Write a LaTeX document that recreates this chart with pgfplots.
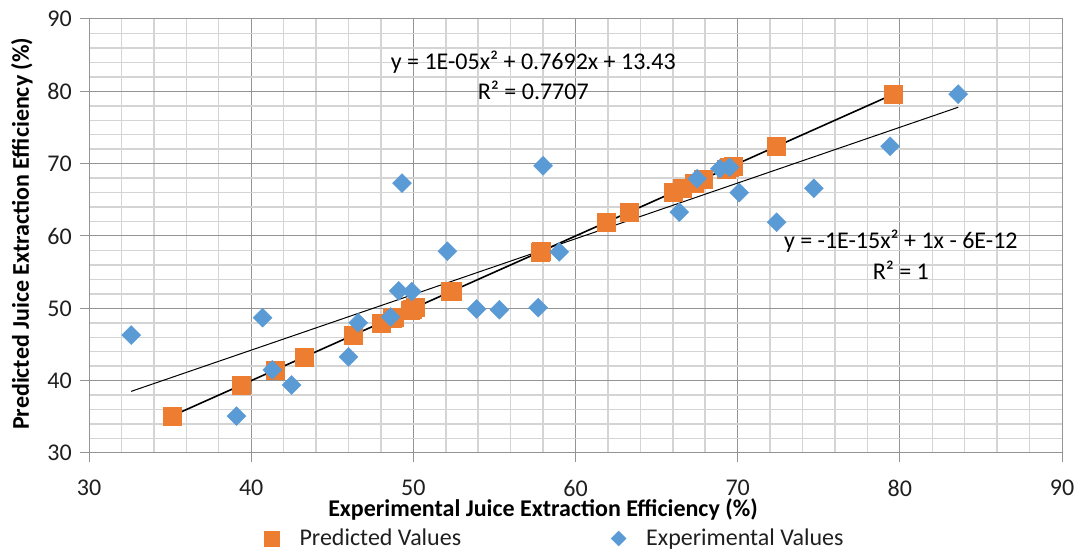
\documentclass[border=0pt]{standalone}
\usepackage{pgfplots}
\pgfplotsset{compat=1.18}
\usepackage{fontspec}
\setmainfont{Carlito}
\definecolor{orng}{HTML}{ED7D31}
\definecolor{blu}{HTML}{5B9BD5}
\pgfplotstableread{
x y
32.6 46.3
39.1 35.1
40.7 48.7
41.3 41.5
42.5 39.4
46.0 43.3
46.6 48.0
48.6 48.8
49.1 52.4
49.9 52.3
52.1 57.9
53.9 49.9
49.3 67.3
55.3 49.8
57.7 50.1
59.0 57.8
58.0 69.7
66.4 63.3
67.5 67.9
68.9 69.3
69.5 69.5
70.1 66.0
72.4 61.9
74.7 66.6
79.4 72.4
83.6 79.6
}\experimental
\pgfplotstableread{
x y
46.3 46.3
35.1 35.1
48.7 48.7
41.5 41.5
39.4 39.4
43.3 43.3
48.0 48.0
48.8 48.8
52.4 52.4
52.3 52.3
57.9 57.9
49.9 49.9
67.3 67.3
49.8 49.8
50.1 50.1
57.8 57.8
69.7 69.7
63.3 63.3
67.9 67.9
69.3 69.3
69.5 69.5
66.0 66.0
61.9 61.9
66.6 66.6
72.4 72.4
79.6 79.6
}\predicted
\begin{document}
\fontsize{24}{28}\selectfont
\begin{tikzpicture}
\begin{axis}[
 scale only axis, width=973pt, height=434pt,
 xmin=30,xmax=90,ymin=30,ymax=90,
 xtick={30,40,...,90}, ytick={30,40,...,90},
 minor x tick num=4, minor y tick num=4,
 grid=both,
 major grid style={draw=black!42, line width=1pt},
 minor grid style={draw=black!17, line width=1.5pt},
 axis line style={draw=black!42, line width=1pt},
 tick style={draw=black!42, line width=1pt},
 major tick length=9pt, minor tick length=0pt,
 tick align=outside, tick pos=left,
 /pgf/number format/assume math mode=true,
 ticklabel style={font=\fontsize{24}{28}\selectfont, text=black!88, inner sep=0pt},
 xticklabel style={yshift=-18pt},
 yticklabel style={xshift=-8pt},
 xlabel={\textbf{Experimental Juice Extraction Efficiency (\%)}},
 ylabel={\textbf{Predicted Juice Extraction Efficiency (\%)}},
 every axis x label/.style={at={(rel axis cs:0.4666,-0.1295)}, anchor=center, inner sep=0pt, font=\fontsize{24}{28}\selectfont\bfseries},
 every axis y label/.style={at={(rel axis cs:-0.0689,0.505)}, anchor=center, rotate=90, inner sep=0pt, font=\fontsize{24}{28}\selectfont\bfseries},
 legend columns=2,
 legend style={at={(rel axis cs:0.479,-0.197)}, anchor=center, draw=none, fill=none,
   font=\fontsize{24}{28}\selectfont, text=black!88,
   /tikz/every odd column/.append style={column sep=18pt},
   /tikz/every even column/.append style={column sep=148pt}},
 legend image code/.code={\draw[#1] plot coordinates {(0pt,0pt)};},
]
\coordinate (SW) at (rel axis cs:0,0);
\coordinate (NE) at (rel axis cs:1,1);
\addplot[only marks, mark=square*, mark size=9pt, color=orng, mark options={draw=orng, fill=orng},
  legend image post style={mark size=7.5pt}] table {\predicted};
\addlegendentry{Predicted Values}
\addplot[only marks, mark=square*, mark size=6.7pt, color=blu, mark options={draw=blu, fill=blu, rotate=45},
  legend image post style={mark size=5.3pt}] table {\experimental};
\addlegendentry{Experimental Values}
\addplot[forget plot, black, line width=1.6pt] coordinates {(35.1,35.1) (79.6,79.6)};
\addplot[forget plot, black, line width=1pt] coordinates {(32.6,38.52) (58.1,58.15) (83.6,77.80)};
\node[font=\fontsize{24}{28}\selectfont, text=black] at (axis cs:57.4,84.05) {y = 1E-05x² + 0.7692x + 13.43};
\node[font=\fontsize{24}{28}\selectfont, text=black] at (axis cs:57.4,80.18) {R² = 0.7707};
\node[font=\fontsize{24}{28}\selectfont, text=black] at (axis cs:80.06,59.3) {y = -1E-15x² + 1x - 6E-12};
\node[font=\fontsize{24}{28}\selectfont, text=black] at (axis cs:80.06,55.2) {R² = 1};
\end{axis}
\path ([shift={(-89pt,-97pt)}]SW) rectangle ([shift={(15pt,19pt)}]NE);
\end{tikzpicture}
\end{document}
